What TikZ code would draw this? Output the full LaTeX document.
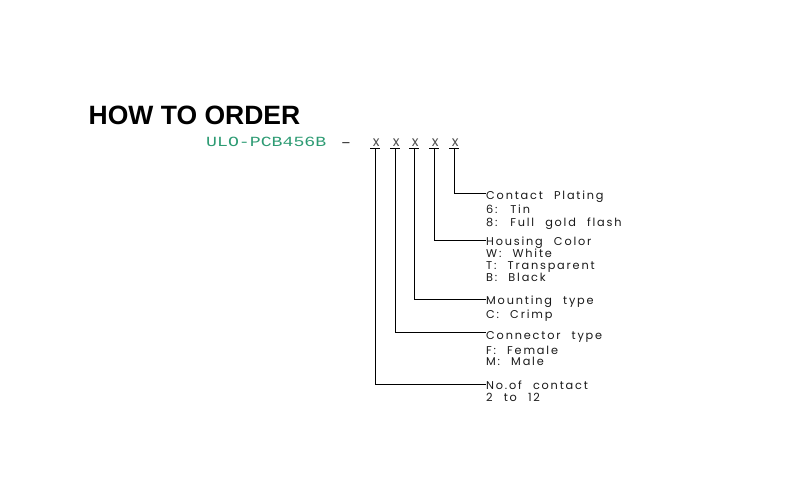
\documentclass[tikz,border=0pt]{standalone}
\usepackage{fontspec}
\setmainfont{Liberation Sans}
\newfontfamily\cadfont[LetterSpace=16,WordSpace=2.3]{Poppins}
\newfontfamily\partfont[FakeStretch=1.3]{Liberation Mono}
\definecolor{partgreen}{RGB}{45,155,115}
\definecolor{pickgray}{RGB}{80,80,80}
\tikzset{
  lab/.style={anchor=base west, inner sep=0pt, font=\cadfont\fontsize{11.3}{12}\selectfont, text=black!90},
  pick/.style={anchor=base, inner sep=0pt, font=\cadfont\fontsize{14}{14}\selectfont, text=pickgray},
  lead/.style={line width=1pt, black},
}
\begin{document}
\begin{tikzpicture}[x=1pt,y=-1pt]
\useasboundingbox (0,0) rectangle (800,502);
% title
\node[anchor=base west, inner sep=0pt, font=\bfseries\fontsize{26.5}{26.5}\selectfont] (title) at (88.5,125) {HOW TO ORDER};
% part number
\node[anchor=base west, inner sep=0pt, font=\partfont\fontsize{14}{14}\selectfont, text=partgreen] (part) at (206,146.5) {ULO-PCB456B};
\node[anchor=base, inner sep=0pt, font=\fontsize{13}{13}\selectfont] (dash) at (346,147) {--};
% code letters
\foreach \i/\x in {1/375,2/395,3/414,4/434,5/454}{
  \node[pick] (x\i) at (\x+1.2,146.5) {x};
  \coordinate (t\i) at (\x,149);
  \draw[lead] (\x-5,149) -- (\x+5,149);
}
% label corner coordinates
\coordinate (c5) at (486,194);
\coordinate (c4) at (486,241);
\coordinate (c3) at (486,300);
\coordinate (c2) at (486,333);
\coordinate (c1) at (486,384);
\draw[lead] (t5) |- (c5);
\draw[lead] (t4) |- (c4);
\draw[lead] (t3) |- (c3);
\draw[lead] (t2) |- (c2);
\draw[lead] (t1) |- (c1);
% labels
\node[lab] (l5a) at (486,200) {Contact Plating};
\node[lab] (l5b) at (486,214) {6: Tin};
\node[lab] (l5c) at (486,226.5) {8: Full gold flash};
\node[lab] (l4a) at (486,246) {Housing Color};
\node[lab] (l4b) at (486,258) {W: White};
\node[lab] (l4c) at (486,270) {T: Transparent};
\node[lab] (l4d) at (486,282) {B: Black};
\node[lab] (l3a) at (486,305) {Mounting type};
\node[lab] (l3b) at (486,319) {C: Crimp};
\node[lab] (l2a) at (486,339) {Connector type};
\node[lab] (l2b) at (486,354) {F: Female};
\node[lab] (l2c) at (486,366) {M: Male};
\node[lab] (l1a) at (486,389) {No.of contact};
\node[lab] (l1b) at (486,401) {2 to 12};
\end{tikzpicture}
\end{document}
